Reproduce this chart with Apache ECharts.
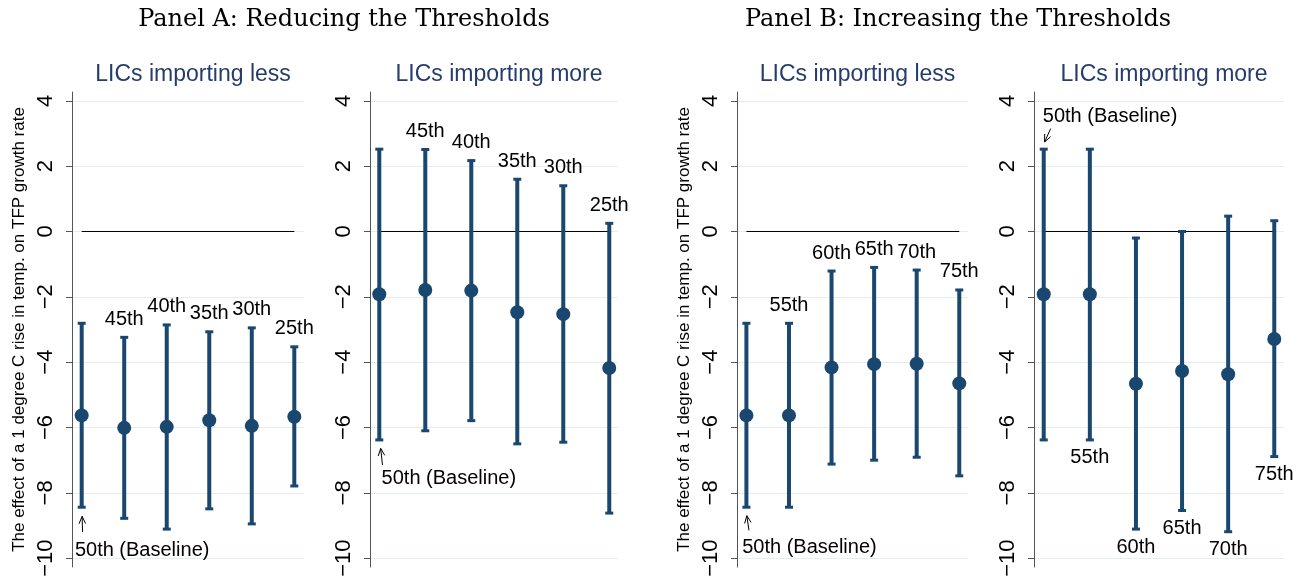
<!DOCTYPE html>
<html>
<head>
<meta charset="utf-8">
<script src="https://cdn.jsdelivr.net/npm/echarts@6/dist/echarts.min.js"></script>
<style>
  html, body { margin: 0; padding: 0; background: #fff; }
  #chart { width: 1304px; height: 586px; }
</style>
</head>
<body>
<div id="chart"></div>
<script>
// y axis ticks shared by all four panels
const yTicks = [-10, -8, -6, -4, -2, 0, 2, 4];

// Panel A - LICs importing less
const aLessLabels = ['50th', '45th', '40th', '35th', '30th', '25th'];
const aLessEst = [-5.63, -6.01, -5.98, -5.78, -5.95, -5.67];
const aLessLo = [-8.44, -8.78, -9.11, -8.49, -8.95, -7.79];
const aLessHi = [-2.81, -3.24, -2.86, -3.07, -2.95, -3.53];

// Panel A - LICs importing more
const aMoreLabels = ['50th', '45th', '40th', '35th', '30th', '25th'];
const aMoreEst = [-1.92, -1.79, -1.81, -2.47, -2.53, -4.18];
const aMoreLo = [-6.38, -6.10, -5.79, -6.50, -6.45, -8.62];
const aMoreHi = [2.52, 2.51, 2.17, 1.60, 1.40, 0.25];

// Panel B - LICs importing less
const bLessLabels = ['50th', '55th', '60th', '65th', '70th', '75th'];
const bLessEst = [-5.63, -5.63, -4.16, -4.06, -4.05, -4.65];
const bLessLo = [-8.44, -8.44, -7.12, -7.00, -6.91, -7.48];
const bLessHi = [-2.81, -2.81, -1.21, -1.10, -1.18, -1.79];

// Panel B - LICs importing more
const bMoreLabels = ['50th', '55th', '60th', '65th', '70th', '75th'];
const bMoreEst = [-1.92, -1.92, -4.66, -4.27, -4.37, -3.29];
const bMoreLo = [-6.38, -6.38, -9.11, -8.54, -9.19, -6.89];
const bMoreHi = [2.52, 2.52, -0.20, 0.00, 0.47, 0.33];

// "50th (Baseline)" note: [x, y] of text start, arrow [xTail, yTail, xTip, yTip]
const baseNote = '50th (Baseline)';
const notePos = [[0.84, -9.76], [1.05, -7.56], [0.90, -9.66], [0.98, 3.51]];
const noteArrow = [
  [1.02, -9.2, 1.01, -8.72],
  [1.07, -7.15, 1.03, -6.64],
  [1.06, -9.15, 1.01, -8.7],
  [1.15, 3.15, 1.02, 2.74]
];

const panels = [
  { title: 'LICs importing less', labels: aLessLabels, est: aLessEst, lo: aLessLo, hi: aLessHi, below: false },
  { title: 'LICs importing more', labels: aMoreLabels, est: aMoreEst, lo: aMoreLo, hi: aMoreHi, below: false },
  { title: 'LICs importing less', labels: bLessLabels, est: bLessEst, lo: bLessLo, hi: bLessHi, below: false },
  { title: 'LICs importing more', labels: bMoreLabels, est: bMoreEst, lo: bMoreLo, hi: bMoreHi, below: true }
];

// layout of the plot regions (px)
const layout = [
  { left: 72, width: 232, xMin: 0.772, xMax: 6.228, yName: true },
  { left: 370, width: 248, xMin: 0.798, xMax: 6.19, yName: false },
  { left: 737, width: 231, xMin: 0.779, xMax: 6.205, yName: true },
  { left: 1034, width: 250, xMin: 0.789, xMax: 6.211, yName: false }
];

const NAVY = '#1a476f';
const AXIS = '#555555';
const GRID = '#e4eef2';
const minus = v => String(v).replace('-', '\u2212');

const chart = echarts.init(document.getElementById('chart'));

function renderBar(params, api) {
  const x = api.value(0);
  const lo = api.coord([x, api.value(1)]);
  const hi = api.coord([x, api.value(2)]);
  const cw = 4;
  return {
    type: 'group',
    children: [
      { type: 'line', shape: { x1: lo[0], y1: lo[1], x2: hi[0], y2: hi[1] }, style: { stroke: NAVY, lineWidth: 4 } },
      { type: 'line', shape: { x1: lo[0] - cw, y1: lo[1], x2: lo[0] + cw, y2: lo[1] }, style: { stroke: NAVY, lineWidth: 3 } },
      { type: 'line', shape: { x1: hi[0] - cw, y1: hi[1], x2: hi[0] + cw, y2: hi[1] }, style: { stroke: NAVY, lineWidth: 3 } }
    ]
  };
}

function renderArrow(params, api) {
  const a = api.coord([api.value(0), api.value(1)]);
  const b = api.coord([api.value(2), api.value(3)]);
  const ang = Math.atan2(a[1] - b[1], a[0] - b[0]);
  const len = 8, spread = 0.42;
  const p1 = [b[0] + len * Math.cos(ang + spread), b[1] + len * Math.sin(ang + spread)];
  const p2 = [b[0] + len * Math.cos(ang - spread), b[1] + len * Math.sin(ang - spread)];
  const style = { stroke: '#000', lineWidth: 1, fill: null };
  return {
    type: 'group',
    children: [
      { type: 'line', shape: { x1: a[0], y1: a[1], x2: b[0], y2: b[1] }, style },
      { type: 'polyline', shape: { points: [p1, b, p2] }, style }
    ]
  };
}

const grid = [], xAxis = [], yAxis = [], series = [], title = [];

title.push({ text: 'Panel A: Reducing the Thresholds', left: 339, top: 3, textAlign: 'center',
  textStyle: { fontFamily: 'DejaVu Serif', fontWeight: 'normal', fontSize: 24, color: '#000' } });
title.push({ text: 'Panel B: Increasing the Thresholds', left: 953, top: 3, textAlign: 'center',
  textStyle: { fontFamily: 'DejaVu Serif', fontWeight: 'normal', fontSize: 24, color: '#000' } });

panels.forEach((p, k) => {
  const L = layout[k];
  grid.push({ left: L.left, width: L.width, top: 92, bottom: 19, containLabel: false });
  title.push({ text: p.title, left: L.left + L.width / 2, top: 58, textAlign: 'center',
    textStyle: { fontFamily: 'Liberation Sans', fontWeight: 'normal', fontSize: 23, color: '#263c6a' } });
  xAxis.push({ type: 'value', gridIndex: k, min: L.xMin, max: L.xMax, show: false });
  yAxis.push({
    type: 'value', gridIndex: k, min: -10.27, max: 4.27,
    name: L.yName ? 'The effect of a 1 degree C rise in temp. on TFP growth rate' : '',
    nameLocation: 'middle', nameGap: 44, nameRotate: 90,
    nameTextStyle: { fontFamily: 'Liberation Sans', fontSize: 17, color: '#000' },
    axisLine: { show: true, lineStyle: { color: AXIS, width: 1 } },
    axisTick: { show: true, length: 6, customValues: yTicks, lineStyle: { color: AXIS } },
    axisLabel: { customValues: yTicks, rotate: 90, margin: 15, fontSize: 22, color: '#000',
      fontFamily: 'Liberation Sans', formatter: minus },
    splitLine: { show: true, lineStyle: { color: GRID, width: 1 } }
  });

  const xs = p.est.map((_, i) => i + 1);

  // zero reference line, from first to last estimate
  series.push({ type: 'line', xAxisIndex: k, yAxisIndex: k, data: [[xs[0], 0], [xs[xs.length - 1], 0]],
    symbol: 'none', lineStyle: { color: '#000', width: 1 }, z: 1, silent: true });

  series.push({ type: 'custom', xAxisIndex: k, yAxisIndex: k, renderItem: renderBar,
    data: xs.map((x, i) => [x, p.lo[i], p.hi[i]]), z: 3 });

  series.push({ type: 'scatter', xAxisIndex: k, yAxisIndex: k, symbolSize: 14,
    itemStyle: { color: NAVY, opacity: 1 }, data: xs.map((x, i) => [x, p.est[i]]), z: 4 });

  // percentile labels at the cap of each bar (baseline has its own note)
  series.push({ type: 'scatter', xAxisIndex: k, yAxisIndex: k, symbolSize: 0, silent: true,
    itemStyle: { opacity: 1 },
    data: xs.slice(1).map((x, j) => ({ value: [x, p.below ? p.lo[j + 1] : p.hi[j + 1]], name: p.labels[j + 1] })),
    label: { show: true, position: p.below ? 'bottom' : 'top', distance: 8, formatter: '{b}',
      fontFamily: 'Liberation Sans', fontSize: 20, color: '#000' }, z: 5 });

  // baseline note text
  series.push({ type: 'scatter', xAxisIndex: k, yAxisIndex: k, symbolSize: 0, silent: true,
    itemStyle: { opacity: 1 },
    data: [{ value: notePos[k], name: baseNote }],
    label: { show: true, position: 'right', distance: 0, formatter: '{b}',
      fontFamily: 'Liberation Sans', fontSize: 20, color: '#000' }, z: 5 });

  series.push({ type: 'custom', xAxisIndex: k, yAxisIndex: k, renderItem: renderArrow,
    data: [noteArrow[k]], z: 5, silent: true });
});

chart.setOption({
  backgroundColor: '#fff',
  animation: false,
  title,
  grid,
  xAxis,
  yAxis,
  series
});
</script>
</body>
</html>
